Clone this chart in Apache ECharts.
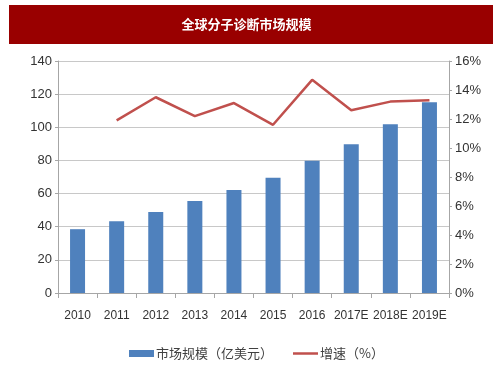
<!DOCTYPE html>
<html>
<head>
<meta charset="utf-8">
<script src="https://cdn.jsdelivr.net/npm/echarts@6/dist/echarts.min.js"></script>
<style>html,body{margin:0;padding:0;background:#fff}#c{width:493px;height:374px}</style>
</head>
<body>
<div id="c"></div>
<script>
const categories = ['2010','2011','2012','2013','2014','2015','2016','2017E','2018E','2019E'];
const marketSize = [38.5, 43.3, 48.9, 55.5, 62.2, 69.6, 79.8, 89.7, 101.8, 115.1];
const growthRate = [null, 11.9, 13.5, 12.2, 13.1, 11.6, 14.7, 12.6, 13.2, 13.3];
const titleText = '全球分子诊断市场规模';
const seriesNames = ['市场规模（亿美元）', '增速（%）'];

const chart = echarts.init(document.getElementById('c'));
const labelFont = '"Liberation Sans Narrow","Liberation Sans",Arial,sans-serif';
chart.setOption({
  animation: false,
  graphic: [
    {type:'rect', left:9, top:5, shape:{width:484, height:39}, style:{fill:'#990000'}},
    {type:'text', left:'center', top:18, style:{text:titleText, fill:'#fff', font:'bold 13px "Noto Sans CJK SC", sans-serif'}}
  ],
  grid: {left:58, right:44, top:61, bottom:81},
  legend: {
    bottom: 9, left: 124, itemGap: 20, itemWidth: 25, itemHeight: 7,
    textStyle: {fontSize: 13, color: '#404040', padding: [0,0,0,-3], fontFamily: '"Noto Sans CJK SC", sans-serif'},
    data: [
      {name: seriesNames[0], icon: 'rect'},
      {name: seriesNames[1], icon: 'path://M0,0 L25,0 L25,2.5 L0,2.5 Z'}
    ]
  },
  xAxis: {
    type: 'category', data: categories,
    axisLine: {lineStyle: {color: '#a6a6a6'}},
    axisTick: {show: true, length: 5, lineStyle: {color: '#a6a6a6'}},
    axisLabel: {color: '#333', fontSize: 12, margin: 17, interval: 0, fontFamily: labelFont}
  },
  yAxis: [
    {
      type: 'value', min: 0, max: 140, interval: 20,
      axisLine: {show: true, lineStyle: {color: '#a6a6a6'}},
      axisTick: {show: true, length: 3, lineStyle: {color: '#a6a6a6'}},
      axisLabel: {color: '#333', fontSize: 13, margin: 6, fontFamily: labelFont},
      splitLine: {lineStyle: {color: '#c8c8c8'}}
    },
    {
      type: 'value', min: 0, max: 16, interval: 2, position: 'right',
      axisLine: {show: true, lineStyle: {color: '#a6a6a6'}},
      axisTick: {show: true, length: 3, lineStyle: {color: '#a6a6a6'}},
      axisLabel: {color: '#333', fontSize: 13, margin: 6, formatter: '{value}%', fontFamily: labelFont},
      splitLine: {show: false}
    }
  ],
  series: [
    {name: seriesNames[0], type: 'bar', data: marketSize, barWidth: 15, itemStyle: {color: '#4F81BD'}},
    {name: seriesNames[1], type: 'line', yAxisIndex: 1, data: growthRate, symbol: 'none',
     lineStyle: {color: '#C0504D', width: 2.5}, itemStyle: {color: '#C0504D'}}
  ]
});
</script>
</body>
</html>
